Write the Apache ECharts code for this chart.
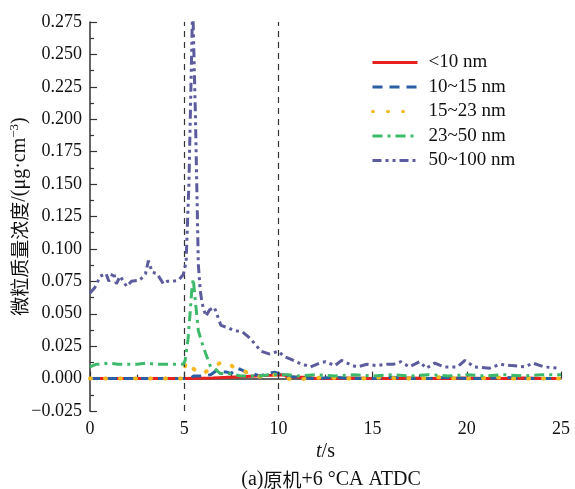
<!DOCTYPE html>
<html>
<head>
<meta charset="utf-8">
<script src="https://cdn.jsdelivr.net/npm/echarts@6/dist/echarts.min.js"></script>
<style>
  html, body { margin: 0; padding: 0; background: #fff; }
  #chart { width: 575px; height: 489px; }
</style>
</head>
<body>
<div id="chart"></div>
<script>
// Particle mass concentration by size class, t in seconds
const seriesNames = ['<10 nm', '10~15 nm', '15~23 nm', '23~50 nm', '50~100 nm'];

const tRed = [0, 5, 5.05, 6.5, 6.55, 8, 8.05, 9.6, 9.65, 10.3, 10.5, 11.5, 12, 13, 14, 15, 16, 17, 18, 19, 20, 21, 22, 23, 24, 25];
const vRed = [0, 0, 0.0005, 0.0005, 0.0015, 0.0015, 0.0025, 0.0025, 0.0035, 0.003, 0.001, 0.001, 0, 0, 0.0005, 0, 0, 0.0005, 0, 0, 0.0005, 0, 0, 0.0005, 0, 0];

const tBlue = [0, 5.3, 5.5, 6.0, 6.4, 6.7, 7.0, 7.25, 7.5, 7.8, 8.0, 8.3, 8.6, 9.0, 9.5, 9.8, 10.0, 10.3, 11, 12, 13, 14, 15, 16, 17, 18, 19, 20, 21, 22, 23, 24, 25];
const vBlue = [0, 0, 0.002, 0.002, 0.003, 0.006, 0.005, 0.005, 0.004, 0.008, 0.007, 0.005, 0.004, 0.002, 0.004, 0.005, 0.004, 0.002, 0.001, 0, 0.001, 0, 0, 0.001, 0, 0, 0.001, 0, 0, 0.001, 0, 0, 0];

const tYellow = [0, 4.9, 5.1, 5.45, 5.9, 6.35, 6.9, 7.25, 7.6, 7.95, 8.4, 9.0, 9.4, 9.9, 10.3, 10.8, 11.5, 12.5, 13.5, 14.5, 15.5, 16.5, 17.5, 18.5, 19.5, 20.5, 21.5, 22.5, 23.5, 24.5, 25];
const vYellow = [0, 0, 0.013, 0.008, 0.003, 0.007, 0.012, 0.013, 0.009, 0.008, 0.004, 0.0015, 0.002, 0.003, 0.001, -0.001, 0, 0.001, 0, 0, 0.001, 0, 0, 0.001, 0, 0, 0.001, 0, 0, 0, 0];

const tGreen = [0, 0.3, 0.6, 1, 1.5, 2, 2.5, 3, 3.5, 4, 4.5, 4.95, 5.05, 5.2, 5.3, 5.4, 5.48, 5.57, 5.66, 5.75, 6.0, 6.2, 6.4, 6.6, 6.9, 7.3, 7.7, 8.0, 8.5, 9.0, 9.5, 10.0, 10.5, 11, 12, 13, 14, 15, 16, 17, 18, 19, 20, 21, 22, 23, 24, 25];
const vGreen = [0.009, 0.011, 0.011, 0.012, 0.011, 0.011, 0.011, 0.012, 0.011, 0.011, 0.011, 0.011, 0.014, 0.030, 0.048, 0.068, 0.077, 0.063, 0.050, 0.037, 0.025, 0.017, 0.009, 0.008, 0.004, 0.004, 0.003, 0.002, 0.002, 0.002, 0.003, 0.003, 0.003, 0.002, 0.003, 0.002, 0.003, 0.002, 0.003, 0.002, 0.003, 0.002, 0.003, 0.002, 0.003, 0.002, 0.003, 0.003];

const tPurple = [0, 0.25, 0.45, 0.55, 0.85, 1.0, 1.25, 1.4, 1.6, 1.95, 2.2, 2.65, 2.95, 3.1, 3.3, 3.55, 3.9, 4.1, 4.4, 4.7, 4.95, 5.1, 5.25, 5.45, 5.6, 5.75, 5.85, 5.95, 6.15, 6.35, 6.6, 6.95, 7.35, 7.65, 8.1, 8.5, 8.85, 9.1, 9.5, 10.0, 10.3, 10.65, 11.1, 11.7, 12.2, 12.5, 13.0, 13.35, 13.95, 14.2, 14.7, 15.2, 15.75, 16.1, 16.5, 16.95, 17.5, 17.85, 18.3, 18.8, 19.5, 19.9, 20.4, 21.2, 21.75, 22.4, 23.1, 23.5, 24.1, 24.9];
const vPurple = [0.066, 0.070, 0.076, 0.079, 0.081, 0.075, 0.082, 0.073, 0.079, 0.071, 0.075, 0.076, 0.081, 0.091, 0.082, 0.081, 0.073, 0.075, 0.075, 0.076, 0.080, 0.090, 0.150, 0.290, 0.200, 0.088, 0.068, 0.058, 0.048, 0.053, 0.055, 0.041, 0.039, 0.037, 0.036, 0.031, 0.025, 0.021, 0.019, 0.021, 0.017, 0.015, 0.012, 0.009, 0.012, 0.013, 0.010, 0.014, 0.010, 0.009, 0.011, 0.010, 0.011, 0.011, 0.013, 0.009, 0.013, 0.008, 0.012, 0.009, 0.009, 0.014, 0.009, 0.008, 0.011, 0.010, 0.009, 0.012, 0.009, 0.008];

// Time markers drawn as vertical dashed lines
const markerTimes = [5, 10];

const serif = 'Liberation Serif';
const cjk = 'Noto Sans CJK SC';

function zip(ts, vs) { return ts.map((t, i) => [t, vs[i]]); }

const styles = [
  { color: '#e8201e', width: 3, type: 'solid' },
  { color: '#2b5ea3', width: 3, type: [10, 7] },
  { color: '#f5b820', width: 4, type: [1, 14], cap: 'round' },
  { color: '#3cba6a', width: 3, type: [10, 5, 3, 5] },
  { color: '#5b5b9e', width: 3, type: [9, 4, 3, 4, 3, 4] }
];
const datasets = [zip(tRed, vRed), zip(tBlue, vBlue), zip(tYellow, vYellow), zip(tGreen, vGreen), zip(tPurple, vPurple)];

const series = seriesNames.map((name, i) => ({
  name,
  type: 'line',
  data: datasets[i],
  showSymbol: false,
  symbol: 'none',
  clip: true,
  color: styles[i].color,
  lineStyle: styles[i],
  z: 2 + i
}));

series[0].markLine = {
  silent: true,
  symbol: ['none', 'none'],
  label: { show: false },
  lineStyle: { color: '#333', width: 1.2, type: [6, 5] },
  data: markerTimes.map(t => ({ xAxis: t }))
};

const chart = echarts.init(document.getElementById('chart'), null, { renderer: 'canvas' });
chart.setOption({
  animation: false,
  backgroundColor: '#fff',
  grid: { left: 90, right: 14, top: 22, bottom: 78, containLabel: false, outerBoundsMode: 'none' },
  title: {
    text: '{en|(a)}{cn|原机}{en|+6 °CA ATDC}',
    left: 326, top: 465, textAlign: 'center',
    textStyle: {
      fontWeight: 'normal',
      rich: {
        en: { fontFamily: serif, fontSize: 20, color: '#111', fontWeight: 'normal' },
        cn: { fontFamily: cjk, fontSize: 19, color: '#111', fontWeight: 'normal' }
      }
    }
  },
  legend: {
    orient: 'vertical',
    left: 366, top: 48,
    itemWidth: 45, itemHeight: 14, itemGap: 5.5,
    itemStyle: { opacity: 0 },
    lineStyle: { width: 3 },
    textStyle: { fontFamily: serif, fontSize: 19, color: '#111', padding: [0, 0, 0, 6] },
    data: seriesNames
  },
  xAxis: {
    type: 'value', min: 0, max: 25, interval: 5,
    name: '{it|t}{en|/s}', nameLocation: 'middle', nameGap: 31,
    nameMoveOverlap: false,
    nameTextStyle: {
      rich: {
        it: { fontFamily: serif, fontSize: 20, fontStyle: 'italic', color: '#111' },
        en: { fontFamily: serif, fontSize: 20, color: '#111' }
      }
    },
    axisLine: { lineStyle: { color: '#333', width: 1.5 } },
    axisTick: { inside: true, length: 7, lineStyle: { color: '#333', width: 1.2 } },
    minorTick: { show: true, splitNumber: 2, length: 4, lineStyle: { color: '#333', width: 1.2 } },
    axisLabel: { fontFamily: serif, fontSize: 18, color: '#111', margin: 9 },
    splitLine: { show: false }
  },
  yAxis: {
    type: 'value', min: -0.025, max: 0.275, interval: 0.025,
    name: '{cn|微粒质量浓度}{en|/(μg·cm}{sup|−3}{en|)}',
    nameLocation: 'middle', nameGap: 58,
    nameMoveOverlap: false,
    nameTextStyle: {
      rich: {
        cn: { fontFamily: cjk, fontSize: 19, color: '#111', lineHeight: 24 },
        en: { fontFamily: serif, fontSize: 20, color: '#111', lineHeight: 24 },
        sup: { fontFamily: serif, fontSize: 13, color: '#111', verticalAlign: 'top', lineHeight: 13 }
      }
    },
    axisLine: { show: true, lineStyle: { color: '#333', width: 1.5 } },
    axisTick: { show: true, inside: true, length: 7, lineStyle: { color: '#333', width: 1.2 } },
    minorTick: { show: true, splitNumber: 2, length: 4, lineStyle: { color: '#333', width: 1.2 } },
    axisLabel: {
      fontFamily: serif, fontSize: 18, color: '#111', margin: 8,
      formatter: v => (v < -1e-9 ? '−' : '') + Math.abs(v).toFixed(3)
    },
    splitLine: { show: false }
  },
  series
});
</script>
</body>
</html>
